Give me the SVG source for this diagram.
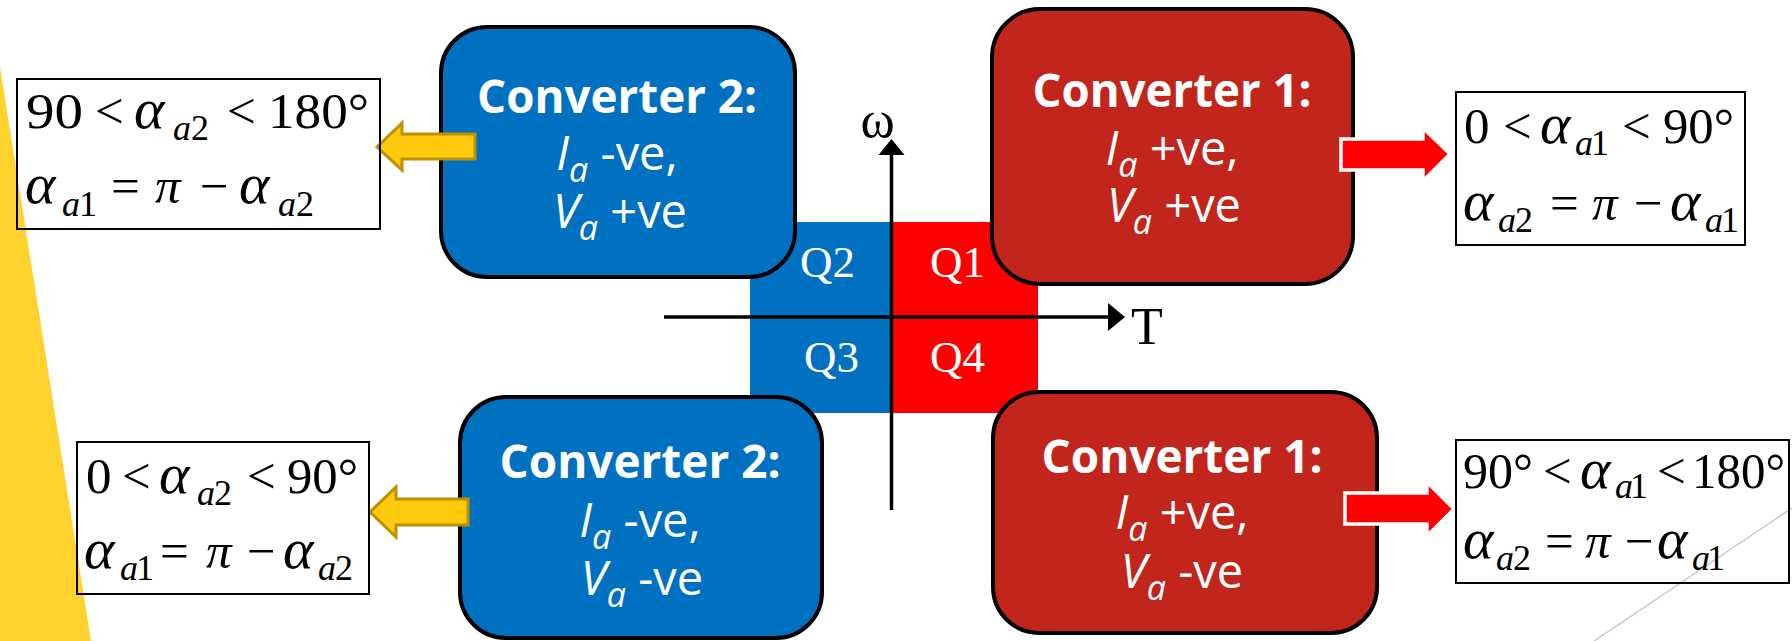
<svg xmlns="http://www.w3.org/2000/svg" width="1792" height="641" viewBox="0 0 1792 641">
<defs>
<style>
.bg{fill:#FFFFFF}
.conv2{fill:#0070C0;stroke:#000;stroke-width:4}
.conv1{fill:#C1251B;stroke:#000;stroke-width:4}
.ct{font-family:"Open Sans","DejaVu Sans",sans-serif;fill:#FFFFFF;font-size:47px;text-anchor:middle}
.ct .b{font-weight:bold}
.it{font-style:italic}
.sub{font-size:34px;font-style:italic}
.mbox{fill:none;stroke:#000;stroke-width:2}
.m{font-family:"Liberation Serif","Times New Roman",serif;font-size:51px;fill:#000}
.m .s{font-size:36px}
.m .g{font-size:58px;font-style:italic}
.q{font-family:"Liberation Serif","Times New Roman",serif;font-size:45px;fill:#FFFFFF}
.ax{stroke:#000;stroke-width:3.5;fill:none}
.axl{font-family:"Liberation Serif","Times New Roman",serif;font-size:52px;fill:#000}
.ya{fill:#FFC90E;stroke:#BF9000;stroke-width:3;stroke-linejoin:miter}
.ra{fill:#FF0000;stroke:#FFFFFF;stroke-width:3.5;stroke-linejoin:miter}
</style>
</defs>
<rect class="bg" x="0" y="0" width="1792" height="641"/>
<polygon points="0,67 91,641 0,641" fill="#FFD22E"/>
<line x1="1594" y1="641" x2="1792" y2="508" stroke="#C8C8C8" stroke-width="1.5"/>

<g id="quadrants">
<rect x="750" y="222" width="142" height="191" fill="#0070C0"/>
<rect x="892" y="222" width="146" height="191" fill="#FF0000"/>
<text class="q" x="800" y="277">Q2</text>
<text class="q" x="930" y="277">Q1</text>
<text class="q" x="804" y="372">Q3</text>
<text class="q" x="930" y="372">Q4</text>
</g>

<g id="axes">
<line class="ax" x1="891.5" y1="153" x2="891.5" y2="510"/>
<polygon points="891.5,139 878.5,155 904.5,155" fill="#000"/>
<line class="ax" x1="664" y1="317" x2="1110" y2="317"/>
<polygon points="1125,317 1108,303 1108,331" fill="#000"/>
<text class="axl" x="877.5" y="137" text-anchor="middle">ω</text>
<text class="axl" x="1131" y="344">T</text>
</g>

<g id="conv2-top">
<rect class="conv2" x="441" y="27" width="354" height="250" rx="46" ry="46"/>
<text class="ct" x="617" y="113"><tspan class="b" textLength="280" lengthAdjust="spacingAndGlyphs">Converter 2:</tspan></text>
<text class="ct" x="617" y="170"><tspan class="it">I</tspan><tspan class="sub" dy="12">a</tspan><tspan dy="-12"> -ve,</tspan></text>
<text class="ct" x="620" y="228"><tspan class="it">V</tspan><tspan class="sub" dy="12">a</tspan><tspan dy="-12"> +ve</tspan></text>
</g>

<g id="conv1-top">
<rect class="conv1" x="992" y="9" width="361" height="275" rx="48" ry="48"/>
<text class="ct" x="1172" y="107"><tspan class="b" textLength="279" lengthAdjust="spacingAndGlyphs">Converter 1:</tspan></text>
<text class="ct" x="1172" y="165"><tspan class="it">I</tspan><tspan class="sub" dy="12">a</tspan><tspan dy="-12"> +ve,</tspan></text>
<text class="ct" x="1174" y="222"><tspan class="it">V</tspan><tspan class="sub" dy="12">a</tspan><tspan dy="-12"> +ve</tspan></text>
</g>

<g id="conv2-bottom">
<rect class="conv2" x="460" y="397" width="362" height="241" rx="46" ry="46"/>
<text class="ct" x="640" y="478"><tspan class="b" textLength="281" lengthAdjust="spacingAndGlyphs">Converter 2:</tspan></text>
<text class="ct" x="640" y="537"><tspan class="it">I</tspan><tspan class="sub" dy="12">a</tspan><tspan dy="-12"> -ve,</tspan></text>
<text class="ct" x="642" y="595"><tspan class="it">V</tspan><tspan class="sub" dy="12">a</tspan><tspan dy="-12"> -ve</tspan></text>
</g>

<g id="conv1-bottom">
<rect class="conv1" x="993" y="392" width="384" height="241" rx="46" ry="46"/>
<text class="ct" x="1182" y="473"><tspan class="b" textLength="281" lengthAdjust="spacingAndGlyphs">Converter 1:</tspan></text>
<text class="ct" x="1182" y="529"><tspan class="it">I</tspan><tspan class="sub" dy="12">a</tspan><tspan dy="-12"> +ve,</tspan></text>
<text class="ct" x="1182" y="588"><tspan class="it">V</tspan><tspan class="sub" dy="12">a</tspan><tspan dy="-12"> -ve</tspan></text>
</g>

<g id="connectors">
<polygon class="ya" points="377,147 402,123 402,134 475,134 475,159 402,159 402,170"/>
<polygon class="ya" points="370,512 396,487 396,499 468,499 468,525 396,525 396,537"/>
<polygon class="ra" points="1341,139 1423,139 1423,128 1450,154 1423,181 1423,170 1341,170"/>
<polygon class="ra" points="1345,493 1427,493 1427,482 1454,509 1427,536 1427,524 1345,524"/>
</g>

<g id="eq-top-left">
<rect class="mbox" x="17" y="79" width="363" height="150"/>
<text class="m"><tspan x="26" y="128" textLength="57" lengthAdjust="spacingAndGlyphs">90</tspan><tspan x="95" y="128">&lt;</tspan><tspan x="134" y="128" class="g">α</tspan><tspan x="173" y="140" class="s it">a</tspan><tspan x="191" y="140" class="s">2</tspan><tspan x="227" y="128">&lt;</tspan><tspan x="268" y="128" textLength="101" lengthAdjust="spacingAndGlyphs">180°</tspan></text>
<text class="m"><tspan x="25" y="203" class="g">α</tspan><tspan x="62" y="216" class="s it">a</tspan><tspan x="79" y="216" class="s">1</tspan><tspan x="111" y="203">=</tspan><tspan x="155" y="203" class="it">π</tspan><tspan x="200" y="203">−</tspan><tspan x="239" y="203" class="g">α</tspan><tspan x="278" y="216" class="s it">a</tspan><tspan x="296" y="216" class="s">2</tspan></text>
</g>

<g id="eq-bottom-left">
<rect class="mbox" x="77" y="442" width="292" height="152"/>
<text class="m"><tspan x="86" y="493">0</tspan><tspan x="122" y="493">&lt;</tspan><tspan x="159" y="493" class="g">α</tspan><tspan x="197" y="505" class="s it">a</tspan><tspan x="214" y="505" class="s">2</tspan><tspan x="247" y="493">&lt;</tspan><tspan x="287" y="493" textLength="71" lengthAdjust="spacingAndGlyphs">90°</tspan></text>
<text class="m"><tspan x="84" y="568" class="g">α</tspan><tspan x="120" y="580" class="s it">a</tspan><tspan x="136" y="580" class="s">1</tspan><tspan x="160" y="568">=</tspan><tspan x="206" y="568" class="it">π</tspan><tspan x="247" y="568">−</tspan><tspan x="283" y="568" class="g">α</tspan><tspan x="318" y="580" class="s it">a</tspan><tspan x="335" y="580" class="s">2</tspan></text>
</g>

<g id="eq-top-right">
<rect class="mbox" x="1456" y="92" width="289" height="153"/>
<text class="m"><tspan x="1464" y="143">0</tspan><tspan x="1503" y="143">&lt;</tspan><tspan x="1540" y="143" class="g">α</tspan><tspan x="1575" y="155" class="s it">a</tspan><tspan x="1591" y="155" class="s">1</tspan><tspan x="1622" y="143">&lt;</tspan><tspan x="1663" y="143" textLength="71" lengthAdjust="spacingAndGlyphs">90°</tspan></text>
<text class="m"><tspan x="1463" y="220" class="g">α</tspan><tspan x="1498" y="232" class="s it">a</tspan><tspan x="1515" y="232" class="s">2</tspan><tspan x="1550" y="220">=</tspan><tspan x="1592" y="220" class="it">π</tspan><tspan x="1634" y="220">−</tspan><tspan x="1670" y="220" class="g">α</tspan><tspan x="1705" y="232" class="s it">a</tspan><tspan x="1721" y="232" class="s">1</tspan></text>
</g>

<g id="eq-bottom-right">
<rect class="mbox" x="1456" y="440" width="333" height="143"/>
<text class="m"><tspan x="1463" y="488" textLength="70" lengthAdjust="spacingAndGlyphs">90°</tspan><tspan x="1543" y="488">&lt;</tspan><tspan x="1580" y="488" class="g">α</tspan><tspan x="1615" y="498" class="s it">a</tspan><tspan x="1630" y="498" class="s">1</tspan><tspan x="1657" y="488">&lt;</tspan><tspan x="1692" y="488" textLength="93" lengthAdjust="spacingAndGlyphs">180°</tspan></text>
<text class="m"><tspan x="1463" y="558" class="g">α</tspan><tspan x="1496" y="570" class="s it">a</tspan><tspan x="1513" y="570" class="s">2</tspan><tspan x="1545" y="558">=</tspan><tspan x="1585" y="558" class="it">π</tspan><tspan x="1625" y="558">−</tspan><tspan x="1657" y="558" class="g">α</tspan><tspan x="1692" y="570" class="s it">a</tspan><tspan x="1707" y="570" class="s">1</tspan></text>
</g>
</svg>
